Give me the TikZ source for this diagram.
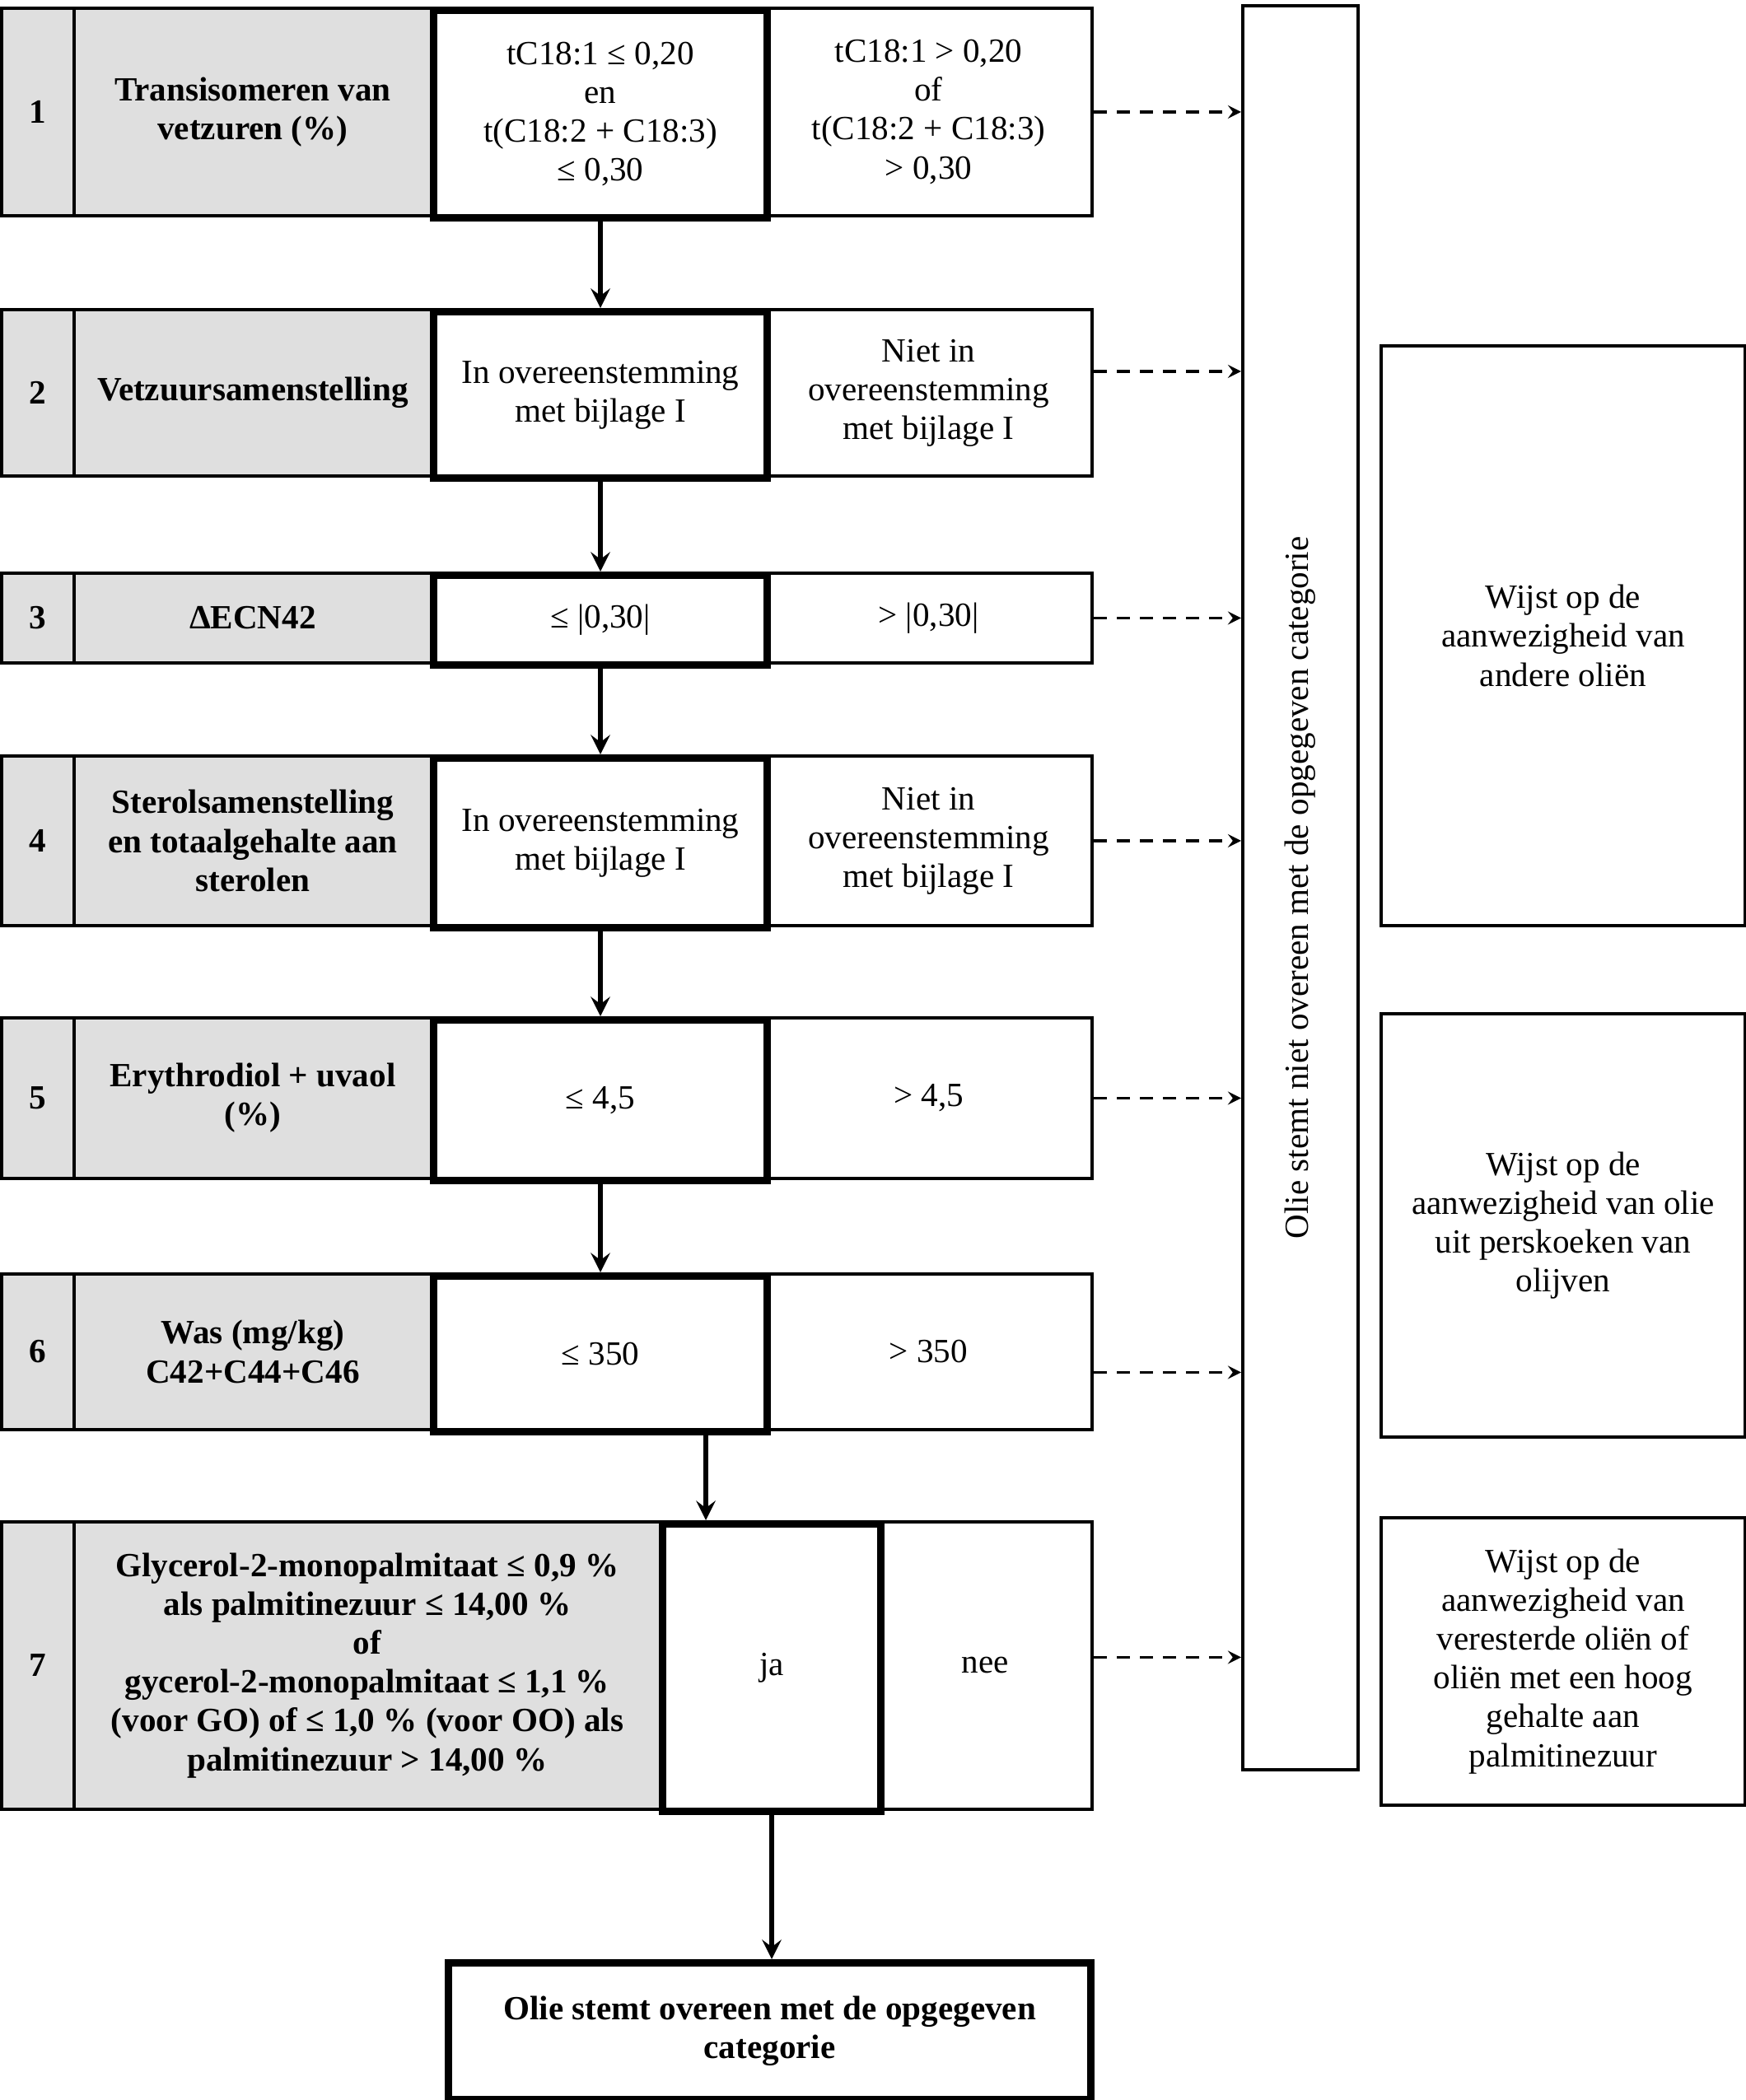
\documentclass[tikz,border=0pt]{standalone}
\usepackage{fontspec}
\setmainfont{Liberation Serif}
\usetikzlibrary{positioning,calc}

\begin{document}
\begin{tikzpicture}[
    cell/.style = {
        rectangle,
        draw=black,
        line width=1.1pt,
        anchor=north west,
        align=center,
        inner sep=3pt,
        font=\fontsize{11.7}{13.4}\selectfont
    },
    numcell/.style   = {cell, fill=gray!25, minimum width=0.88cm, font=\fontsize{11.7}{13.4}\selectfont\bfseries},
    labelcell/.style = {cell, fill=gray!25, font=\fontsize{11.7}{13.4}\selectfont\bfseries},
    yescell/.style   = {cell, fill=white, line width=2.6pt},
    nocell/.style    = {cell, fill=white},
    notebox/.style   = {cell, minimum width=4.42cm},
    barbox/.style    = {cell, minimum width=1.40cm, minimum height=21.42cm},
    finalbox/.style  = {cell, line width=2.6pt, minimum width=7.80cm, minimum height=1.66cm, font=\fontsize{11.7}{13.4}\selectfont\bfseries},
    arrow/.style     = {->, line width=1.9pt, >=stealth},
    dasharrow/.style = {->, line width=1pt, >=stealth, dash pattern=on 4.5pt off 3.5pt},
    line cap=butt, line join=miter
]

\useasboundingbox (0,0) rectangle (21.19,-25.50);

% row 1
\node[numcell, minimum height=2.52cm] (n1) at (0,-0.08) {1};
\node[labelcell, minimum width=4.34cm, minimum height=2.52cm] (l1) at (0.88,-0.08) {Transisomeren van\\vetzuren (\%)};
\node[nocell, minimum width=3.97cm, minimum height=2.52cm] (no1) at (9.27,-0.08) {tC18:1 > 0,20\\of\\t(C18:2 + C18:3)\\> 0,30};
\node[yescell, minimum width=4.05cm, minimum height=2.52cm] (y1) at (5.22,-0.08) {tC18:1 ≤ 0,20\\en\\t(C18:2 + C18:3)\\≤ 0,30};

% row 2
\node[numcell, minimum height=2.02cm] (n2) at (0,-3.74) {2};
\node[labelcell, minimum width=4.34cm, minimum height=2.02cm] (l2) at (0.88,-3.74) {Vetzuursamenstelling};
\node[nocell, minimum width=3.97cm, minimum height=2.02cm] (no2) at (9.27,-3.74) {Niet in\\overeenstemming\\met bijlage I};
\node[yescell, minimum width=4.05cm, minimum height=2.02cm] (y2) at (5.22,-3.74) {In overeenstemming\\met bijlage I};

% row 3
\node[numcell, minimum height=1.09cm] (n3) at (0,-6.94) {3};
\node[labelcell, minimum width=4.34cm, minimum height=1.09cm] (l3) at (0.88,-6.94) {ΔECN42};
\node[nocell, minimum width=3.97cm, minimum height=1.09cm] (no3) at (9.27,-6.94) {> |0,30|};
\node[yescell, minimum width=4.05cm, minimum height=1.09cm] (y3) at (5.22,-6.94) {≤ |0,30|};

% row 4
\node[numcell, minimum height=2.06cm] (n4) at (0,-9.16) {4};
\node[labelcell, minimum width=4.34cm, minimum height=2.06cm] (l4) at (0.88,-9.16) {Sterolsamenstelling\\en totaalgehalte aan\\sterolen};
\node[nocell, minimum width=3.97cm, minimum height=2.06cm] (no4) at (9.27,-9.16) {Niet in\\overeenstemming\\met bijlage I};
\node[yescell, minimum width=4.05cm, minimum height=2.06cm] (y4) at (5.22,-9.16) {In overeenstemming\\met bijlage I};

% row 5
\node[numcell, minimum height=1.95cm] (n5) at (0,-12.34) {5};
\node[labelcell, minimum width=4.34cm, minimum height=1.95cm] (l5) at (0.88,-12.34) {Erythrodiol + uvaol\\(\%)};
\node[nocell, minimum width=3.97cm, minimum height=1.95cm] (no5) at (9.27,-12.34) {> 4,5};
\node[yescell, minimum width=4.05cm, minimum height=1.95cm] (y5) at (5.22,-12.34) {≤ 4,5};

% row 6
\node[numcell, minimum height=1.89cm] (n6) at (0,-15.45) {6};
\node[labelcell, minimum width=4.34cm, minimum height=1.89cm] (l6) at (0.88,-15.45) {Was (mg/kg)\\C42+C44+C46};
\node[nocell, minimum width=3.97cm, minimum height=1.89cm] (no6) at (9.27,-15.45) {> 350};
\node[yescell, minimum width=4.05cm, minimum height=1.89cm] (y6) at (5.22,-15.45) {≤ 350};

% row 7
\node[numcell, minimum height=3.49cm] (n7) at (0,-18.46) {7};
\node[labelcell, minimum width=7.12cm, minimum height=3.49cm] (l7) at (0.88,-18.46) {Glycerol-2-monopalmitaat ≤ 0,9 \%\\als palmitinezuur ≤ 14,00 \%\\of\\gycerol-2-monopalmitaat ≤ 1,1 \%\\(voor GO) of ≤ 1,0 \% (voor OO) als\\palmitinezuur > 14,00 \%};
\node[nocell, minimum width=2.59cm, minimum height=3.49cm] (nee) at (10.65,-18.46) {nee};
\node[yescell, minimum width=2.65cm, minimum height=3.49cm] (ja) at (8.00,-18.46) {ja};

\node[finalbox] (final) at (5.40,-23.79) {Olie stemt overeen met de opgegeven\\categorie};

% right side
\node[barbox] (bar) at (15.07,-0.05) {\rotatebox{90}{Olie stemt niet overeen met de opgegeven categorie}};

\node[notebox, minimum height=7.04cm] (other) at (16.75,-4.18) {Wijst op de\\aanwezigheid van\\andere oliën};
\node[notebox, minimum height=5.14cm] (pomace) at (16.75,-12.29) {Wijst op de\\aanwezigheid van olie\\uit perskoeken van\\olijven};
\node[notebox, minimum height=3.49cm] (ester) at (16.75,-18.41) {Wijst op de\\aanwezigheid van\\veresterde oliën of\\oliën met een hoog\\gehalte aan\\palmitinezuur};

% yes path
\draw[arrow] (y1.south) -- (y2.north);
\draw[arrow] (y2.south) -- (y3.north);
\draw[arrow] (y3.south) -- (y4.north);
\draw[arrow] (y4.south) -- (y5.north);
\draw[arrow] (y5.south) -- (y6.north);
\draw[arrow] ($(y6.south -| ja.west)+(0.57,0)$) -- ($(ja.north west)+(0.57,0)$);
\draw[arrow] (ja.south) -- (ja.south |- final.north);

% no path
\draw[dasharrow] (no1.east) -- (no1.east -| bar.west);
\draw[dasharrow] ($(no2.east)+(0,0.26)$) -- ($(no2.east -| bar.west)+(0,0.26)$);
\draw[dasharrow] (no3.east) -- (no3.east -| bar.west);
\draw[dasharrow] (no4.east) -- (no4.east -| bar.west);
\draw[dasharrow] (no5.east) -- (no5.east -| bar.west);
\draw[dasharrow] ($(no6.east)+(0,-0.25)$) -- ($(no6.east -| bar.west)+(0,-0.25)$);
\draw[dasharrow] ($(nee.east)+(0,0.10)$) -- ($(nee.east -| bar.west)+(0,0.10)$);

\end{tikzpicture}
\end{document}
